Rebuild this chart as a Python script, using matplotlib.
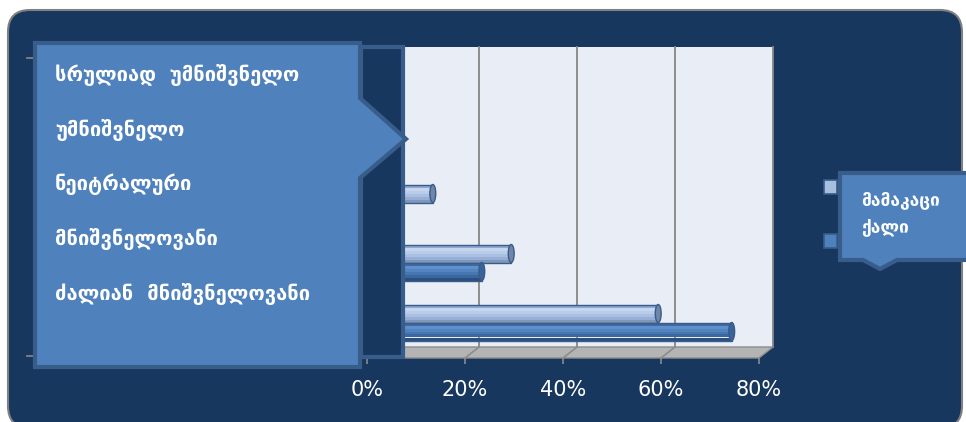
import matplotlib
matplotlib.use("Agg")
import matplotlib.pyplot as plt
from matplotlib.patches import FancyBboxPatch, Polygon, Rectangle, Ellipse
from matplotlib.transforms import Affine2D

plt.rcParams["font.family"] = ["DejaVu Sans"]

# survey answers, top to bottom
categories = ["სრულიად  უმნიშვნელო", "უმნიშვნელო", "ნეიტრალური",
              "მნიშვნელოვანი", "ძალიან  მნიშვნელოვანი"]
series_names = ["მამაკაცი", "ქალი"]
men = [1, 1, 12, 28, 58]
women = [0, 1, 4, 22, 73]
xticks = [0, 20, 40, 60, 80]
xtick_labels = ["0%", "20%", "40%", "60%", "80%"]

W, H = 966, 422
navy = "#17375E"
box_blue = "#4F81BD"
box_edge = "#385D8A"
light_bar = "#A7BFDE"
dark_bar = "#4F81BD"

# cylinder shading, top strip first
light_shades = ["#8EA8D2", "#C6D6EF", "#B9CCEA", "#A9C0E3", "#97AFD6", "#8197BA"]
dark_shades = ["#3D69A6", "#6090CC", "#5284C0", "#4777B3", "#3B679F", "#2C4F80"]

fig = plt.figure(figsize=(W / 100, H / 100), dpi=100)
fig.patch.set_facecolor("white")

#_____________________________________________________________________________
def pix_axes(z):
    a = fig.add_axes([0, 0, 1, 1], zorder=z)
    a.set_xlim(0, W)
    a.set_ylim(H, 0)
    a.axis("off")
    a.patch.set_alpha(0)
    return a

bg = pix_axes(0)
fg = pix_axes(2)

# outer rounded panel, bottom edge runs off the canvas
bg.add_patch(FancyBboxPatch((8, 10), 954, 418, boxstyle="round,pad=0,rounding_size=22",
                            fc=navy, ec="#808080", lw=1.5))

# front plane of the 3D plot
ax = fig.add_axes([367 / W, (H - 358) / H, 392 / W, 300 / H], zorder=1)
ax.set_xlim(0, 80)
ax.set_ylim(len(categories) - 0.5, -0.5)
ax.patch.set_alpha(0)
for s in ax.spines.values():
    s.set_visible(False)
ax.set_yticks([])
ax.set_xticks(xticks)
ax.set_xticklabels(xtick_labels, color="white", fontsize=15)
ax.tick_params(axis="x", direction="out", length=4.5, width=1.2, color="#8C8C8C", pad=11)

mid = ax.transData + Affine2D().translate(7, 5.5)
back = ax.transData + Affine2D().translate(14, 11)

fig.canvas.draw()

#_____________________________________________________________________________
def to_pix(tr, x, y):
    dx, dy = tr.transform((x, y))
    return dx, H - dy

ytop, ybot = -0.5, len(categories) - 0.5

# back wall
bl = to_pix(back, 0, ybot)
tr_ = to_pix(back, 80, ytop)
bg.add_patch(Rectangle((bl[0], tr_[1]), tr_[0] - bl[0], bl[1] - tr_[1],
                       fc="#E9EDF5", ec="none"))
for v in xticks[1:]:
    p0 = to_pix(back, v, ytop)
    p1 = to_pix(back, v, ybot)
    bg.plot([p0[0], p1[0]], [p0[1], p1[1]], color="#878787", lw=1.3)

# floor
f_pts = [to_pix(ax.transData, 0, ybot), to_pix(ax.transData, 80, ybot),
         to_pix(back, 80, ybot), to_pix(back, 0, ybot)]
bg.add_patch(Polygon(f_pts, closed=True, fc="#B4B4B4", ec="#8C8C8C", lw=1))
for v in xticks[1:-1]:
    p0 = to_pix(back, v, ybot)
    p1 = to_pix(ax.transData, v, ybot)
    bg.plot([p0[0], p1[0]], [p0[1], p1[1]], color="#8C8C8C", lw=1.2)

# left y axis ticks
for yy in (58, 356):
    bg.plot([27, 33], [yy, yy], color="#8C8C8C", lw=1.2)

# cylinder bars
bh = 0.3
for vals, shades, col, off in ((men, light_shades, light_bar, -bh / 2),
                               (women, dark_shades, dark_bar, bh / 2)):
    for i, v in enumerate(vals):
        if v <= 0:
            continue
        yc = i + off
        n = len(shades)
        for k, c in enumerate(shades):
            ax.barh(yc - bh / 2 + (k + 0.5) * bh / n, v, height=bh / n, color=c,
                    lw=0, transform=mid, clip_on=False)
        ax.barh(yc, v, height=bh, fill=False, ec=box_edge, lw=1, transform=mid, clip_on=False)
        ax.add_patch(Ellipse((v, yc), 1.2, bh, fc="#6F86A8" if col == light_bar else "#3A639A",
                             ec=box_edge, lw=1, transform=mid, clip_on=False))

# category callout
fg.add_patch(Rectangle((361, 47), 42, 310, fc=navy, ec=box_edge, lw=3))
fg.add_patch(Polygon([(35, 43), (360, 43), (360, 98), (406, 139), (360, 178),
                      (360, 367), (35, 367)], closed=True, fc=box_blue, ec=box_edge, lw=3,
                     joinstyle="miter"))
for i, c in enumerate(categories):
    fg.text(55, 75 + 54.8 * i, c, color="white", fontsize=14.5, fontweight="bold",
            va="center", ha="left")

# legend callout
fg.add_patch(Polygon([(840, 173), (975, 173), (975, 260), (897, 260), (880, 269),
                      (863, 260), (840, 260)], closed=True, fc=box_blue, ec=box_edge, lw=3))
for j, (name, col) in enumerate(zip(series_names, [light_bar, dark_bar])):
    y0 = 180 + 54 * j
    fg.add_patch(Rectangle((824, y0), 13, 14, fc=col, ec=box_edge, lw=1.2))
    fg.text(861, 200 + 28 * j, name, color="white", fontsize=12.5, fontweight="bold",
            va="center", ha="left")

fig.savefig("out.png", dpi=100, facecolor=fig.get_facecolor())
